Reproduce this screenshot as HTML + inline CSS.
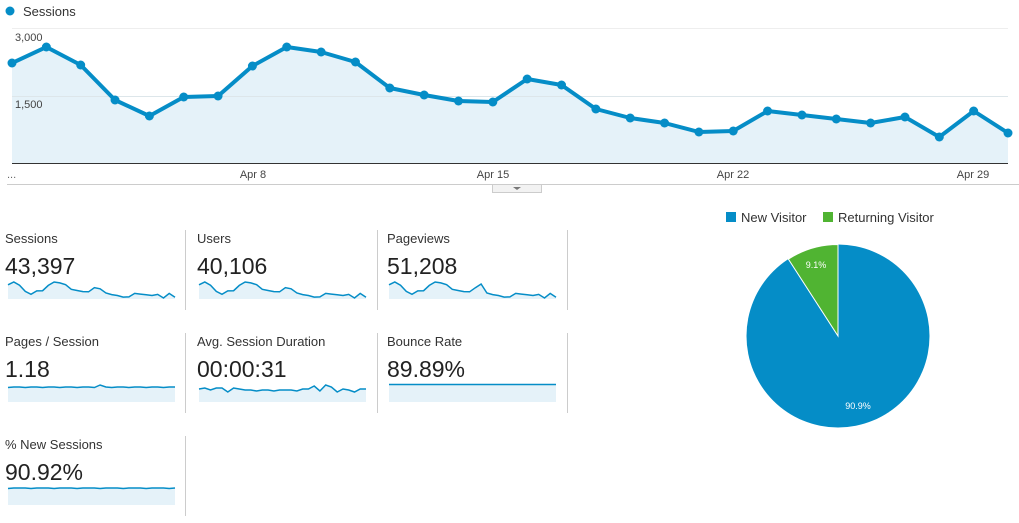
<!DOCTYPE html>
<html><head><meta charset="utf-8"><style>
body{margin:0;background:#fff;width:1019px;height:523px;overflow:hidden;font-family:"Liberation Sans",Arial,sans-serif;}
svg{position:absolute;left:0;top:0}
</style></head><body>
<svg id="s" width="1019" height="523" xmlns="http://www.w3.org/2000/svg" font-family="Liberation Sans, Arial, sans-serif">
<circle cx="10" cy="11" r="4.5" fill="#058dc7"/>
<text x="23" y="16" font-size="13" fill="#333">Sessions</text>
<g id="fill"></g>
<line x1="12" y1="28.5" x2="1008" y2="28.5" stroke="#eee"/>
<line x1="12" y1="96.5" x2="1008" y2="96.5" stroke="#dde6ea"/>
<text x="15" y="41" font-size="11" fill="#444">3,000</text>
<text x="15" y="108" font-size="11" fill="#444">1,500</text>
<g id="main"></g>
<line x1="12" y1="163.5" x2="1008" y2="163.5" stroke="#333"/>
<text x="7" y="178" font-size="11" fill="#666">...</text>
<text x="253" y="178" font-size="11" fill="#444" text-anchor="middle">Apr 8</text>
<text x="493" y="178" font-size="11" fill="#444" text-anchor="middle">Apr 15</text>
<text x="733" y="178" font-size="11" fill="#444" text-anchor="middle">Apr 22</text>
<text x="973" y="178" font-size="11" fill="#444" text-anchor="middle">Apr 29</text>
<line x1="7" y1="184.5" x2="1019" y2="184.5" stroke="#ccc"/>
<rect x="492.5" y="184.5" width="49" height="8" fill="#f2f2f2" stroke="#ccc"/>
<polygon points="513,187 521,187 517,190" fill="#777"/>
<g fill="#ccc"><rect x="185" y="230" width="1" height="80"/><rect x="377" y="230" width="1" height="80"/><rect x="567" y="230" width="1" height="80"/>
<rect x="185" y="333" width="1" height="80"/><rect x="377" y="333" width="1" height="80"/><rect x="567" y="333" width="1" height="80"/>
<rect x="185" y="436" width="1" height="80"/></g>
<g font-size="13" fill="#333">
<text x="5" y="243">Sessions</text><text x="197" y="243">Users</text><text x="387" y="243">Pageviews</text>
<text x="5" y="346">Pages / Session</text><text x="197" y="346">Avg. Session Duration</text><text x="387" y="346">Bounce Rate</text>
<text x="5" y="449">% New Sessions</text></g>
<g font-size="23" fill="#222">
<text x="5" y="274">43,397</text><text x="197" y="274">40,106</text><text x="387" y="274">51,208</text>
<text x="5" y="377">1.18</text><text x="197" y="377">00:00:31</text><text x="387" y="377">89.89%</text>
<text x="5" y="480">90.92%</text></g>
<g id="sp"></g>
<rect x="726" y="212" width="10" height="10" fill="#058dc7"/>
<text x="741" y="222" font-size="13" fill="#333">New Visitor</text>
<rect x="823" y="212" width="10" height="10" fill="#50b432"/>
<text x="838" y="222" font-size="13" fill="#333">Returning Visitor</text>
<circle cx="838" cy="336" r="91.5" fill="#058dc7"/>
<path d="M838,336 L838,244.5 A91.5,91.5 0 0 0 788.4,259.1 Z" fill="#50b432" stroke="#fff" stroke-width="1"/>
<text x="816" y="268" font-size="9" fill="#fff" text-anchor="middle">9.1%</text>
<text x="858" y="409" font-size="9" fill="#fff" text-anchor="middle">90.9%</text>
</svg>
<script>
var Y=[63,47,65,100,116,97,96,66,47,52,62,88,95,101,102,79,85,109,118,123,132,131,111,115,119,123,117,137,111,133];
var ns="http://www.w3.org/2000/svg";
function el(p,t,a){var e=document.createElementNS(ns,t);for(var k in a)e.setAttribute(k,a[k]);p.appendChild(e);return e;}
var m=document.getElementById('main');var f=document.getElementById('fill');var pts=[];
for(var i=0;i<30;i++){pts.push([12+i*996/29,Y[i]]);}
var s=pts.map(function(p){return p[0].toFixed(1)+','+p[1]}).join(' ');
el(f,'polygon',{points:'12,163 '+s+' 1008,163',fill:'#e5f2f9'});
el(m,'polyline',{points:s,fill:'none',stroke:'#058dc7','stroke-width':4,'stroke-linejoin':'round'});
pts.forEach(function(p){el(m,'circle',{cx:p[0],cy:p[1],r:4.5,fill:'#058dc7'});});
var sp=document.getElementById('sp');
function spark(x0,yb,vals){var n=vals.length,w=167;var a=[];for(var i=0;i<n;i++)a.push((x0+i*w/(n-1)).toFixed(1)+','+vals[i].toFixed(1));
el(sp,'polygon',{points:x0+','+yb+' '+a.join(' ')+' '+(x0+w)+','+yb,fill:'#e5f2f9'});
el(sp,'polyline',{points:a.join(' '),fill:'none',stroke:'#058dc7','stroke-width':1.5});}
function sc(base){return Y.map(function(y){return base+(y-47)*16/90;});}
spark(8,299,sc(282));spark(199,299,sc(282));
var pv=sc(282);pv[16]=284;spark(389,299,pv);
var pp=[];for(var i=0;i<30;i++)pp.push(387+(i%3==0?0.5:0));pp[16]=385;spark(8,402,pp);
var ad=[389,388,390,388,388,392,388,389,390,390,391,390,390,391,390,390,390,391,389,389,386,391,385,387,392,389,390,392,389,389];spark(199,402,ad);
var br=[];for(var i=0;i<30;i++)br.push(384.5);spark(389,402,br);
var nw=[];for(var i=0;i<30;i++)nw.push(488+(i%4==0?0.5:0));spark(8,505,nw);
</script>
</body></html>
